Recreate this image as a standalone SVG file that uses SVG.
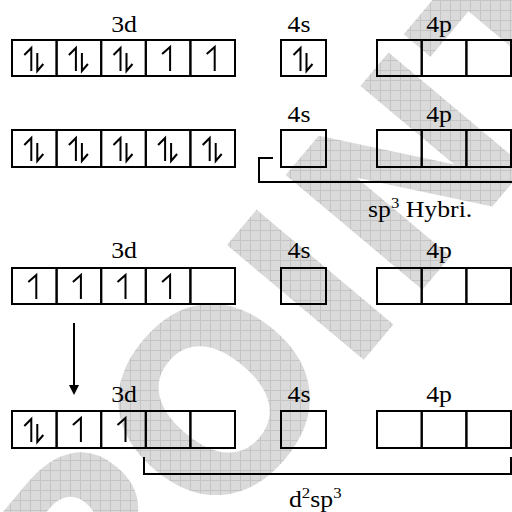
<svg xmlns="http://www.w3.org/2000/svg" width="512" height="512" viewBox="0 0 512 512">
<style>
.box{fill:none;stroke:#000;stroke-width:2}
.e{fill:none;stroke:#000;stroke-width:2;stroke-linecap:butt;stroke-linejoin:miter}
.lbl{font-family:"Liberation Serif","Times New Roman",serif;font-size:23px;fill:#000}
.ln{fill:none;stroke:#000;stroke-width:2}
</style>
<defs>
<pattern id="grid" width="10" height="10" patternUnits="userSpaceOnUse">
<rect width="10" height="10" fill="#dadada"/>
<path d="M0,0.5H10M0.5,0V10" stroke="#c4c4c4" stroke-width="1"/>
</pattern>
<mask id="wm">
<text x="0" y="0" font-family="DejaVu Sans" font-weight="bold" font-size="245" fill="#fff" transform="translate(100,674) rotate(-50)">POINT</text>
</mask>
<path id="pair" class="e" d="M-3,31V8L-10,15M3,13V31L9,24"/>
<path id="up" class="e" d="M2,31V7L-6,14"/>
</defs>
<rect width="512" height="512" fill="#fff"/>
<rect id="watermark" width="512" height="512" fill="url(#grid)" mask="url(#wm)"/>

<g id="row1">
<text class="lbl" text-anchor="middle" transform="translate(124,32) scale(1.12,1)">3d</text>
<text class="lbl" text-anchor="middle" transform="translate(299,32) scale(1.12,1)">4s</text>
<text class="lbl" text-anchor="middle" transform="translate(439,32) scale(1.12,1)">4p</text>
<g id="r1-3d">
<rect class="box" x="12" y="40" width="44.6" height="36"/>
<rect class="box" x="56.6" y="40" width="44.6" height="36"/>
<rect class="box" x="101.2" y="40" width="44.6" height="36"/>
<rect class="box" x="145.8" y="40" width="44.6" height="36"/>
<rect class="box" x="190.4" y="40" width="44.6" height="36"/>
<use href="#pair" transform="translate(34.3,40)"/>
<use href="#pair" transform="translate(78.9,40)"/>
<use href="#pair" transform="translate(123.5,40)"/>
<use href="#up" transform="translate(168.1,40)"/>
<use href="#up" transform="translate(212.7,40)"/>
</g>
<g id="r1-4s">
<rect class="box" x="281" y="40" width="45" height="36"/>
<use href="#pair" transform="translate(303.5,40)"/>
</g>
<g id="r1-4p">
<rect class="box" x="377" y="40" width="44.7" height="36"/>
<rect class="box" x="421.7" y="40" width="44.7" height="36"/>
<rect class="box" x="466.4" y="40" width="44.6" height="36"/>
</g>
</g>

<g id="row2">
<text class="lbl" text-anchor="middle" transform="translate(299,122) scale(1.12,1)">4s</text>
<text class="lbl" text-anchor="middle" transform="translate(439,122) scale(1.12,1)">4p</text>
<g id="r2-3d">
<rect class="box" x="12" y="130" width="44.6" height="37"/>
<rect class="box" x="56.6" y="130" width="44.6" height="37"/>
<rect class="box" x="101.2" y="130" width="44.6" height="37"/>
<rect class="box" x="145.8" y="130" width="44.6" height="37"/>
<rect class="box" x="190.4" y="130" width="44.6" height="37"/>
<use href="#pair" transform="translate(34.3,130)"/>
<use href="#pair" transform="translate(78.9,130)"/>
<use href="#pair" transform="translate(123.5,130)"/>
<use href="#pair" transform="translate(168.1,130)"/>
<use href="#pair" transform="translate(212.7,130)"/>
</g>
<g id="r2-4s"><rect class="box" x="281" y="130" width="45" height="37"/></g>
<g id="r2-4p">
<rect class="box" x="377" y="130" width="44.7" height="37"/>
<rect class="box" x="421.7" y="130" width="44.7" height="37"/>
<rect class="box" x="466.4" y="130" width="44.6" height="37"/>
</g>
</g>

<g id="row3">
<text class="lbl" text-anchor="middle" transform="translate(124,258) scale(1.12,1)">3d</text>
<text class="lbl" text-anchor="middle" transform="translate(299,258) scale(1.12,1)">4s</text>
<text class="lbl" text-anchor="middle" transform="translate(439,258) scale(1.12,1)">4p</text>
<g id="r3-3d">
<rect class="box" x="12" y="268" width="44.6" height="36"/>
<rect class="box" x="56.6" y="268" width="44.6" height="36"/>
<rect class="box" x="101.2" y="268" width="44.6" height="36"/>
<rect class="box" x="145.8" y="268" width="44.6" height="36"/>
<rect class="box" x="190.4" y="268" width="44.6" height="36"/>
<use href="#up" transform="translate(34.3,268)"/>
<use href="#up" transform="translate(78.9,268)"/>
<use href="#up" transform="translate(123.5,268)"/>
<use href="#up" transform="translate(168.1,268)"/>
</g>
<g id="r3-4s"><rect class="box" x="281" y="268" width="45" height="36"/></g>
<g id="r3-4p">
<rect class="box" x="377" y="268" width="44.7" height="36"/>
<rect class="box" x="421.7" y="268" width="44.7" height="36"/>
<rect class="box" x="466.4" y="268" width="44.6" height="36"/>
</g>
</g>

<g id="row4">
<text class="lbl" text-anchor="middle" transform="translate(124,402) scale(1.12,1)">3d</text>
<text class="lbl" text-anchor="middle" transform="translate(299,402) scale(1.12,1)">4s</text>
<text class="lbl" text-anchor="middle" transform="translate(439,402) scale(1.12,1)">4p</text>
<g id="r4-3d">
<rect class="box" x="12" y="411" width="44.6" height="37"/>
<rect class="box" x="56.6" y="411" width="44.6" height="37"/>
<rect class="box" x="101.2" y="411" width="44.6" height="37"/>
<rect class="box" x="145.8" y="411" width="44.6" height="37"/>
<rect class="box" x="190.4" y="411" width="44.6" height="37"/>
<use href="#pair" transform="translate(34.3,411)"/>
<use href="#up" transform="translate(78.9,411)"/>
<use href="#up" transform="translate(123.5,411)"/>
</g>
<g id="r4-4s"><rect class="box" x="281" y="411" width="45" height="37"/></g>
<g id="r4-4p">
<rect class="box" x="377" y="411" width="44.7" height="37"/>
<rect class="box" x="421.7" y="411" width="44.7" height="37"/>
<rect class="box" x="466.4" y="411" width="44.6" height="37"/>
</g>
</g>

<g id="connectors">
<path class="ln" d="M273,158H259V182H512"/>
<path class="ln" d="M144,457V474H511V457"/>
<line class="ln" x1="74" y1="323" x2="74" y2="386"/>
<polygon points="69,385 79,385 74,395" fill="#000"/>
</g>

<g id="labels">
<text class="lbl" transform="translate(368,217) scale(1.12,1)">sp<tspan font-size="15" dy="-9">3</tspan><tspan dy="9"> Hybri.</tspan></text>
<text class="lbl" transform="translate(289,507) scale(1.12,1)">d<tspan font-size="15" dy="-9">2</tspan><tspan dy="9">sp</tspan><tspan font-size="15" dy="-9">3</tspan></text>
</g>
</svg>
